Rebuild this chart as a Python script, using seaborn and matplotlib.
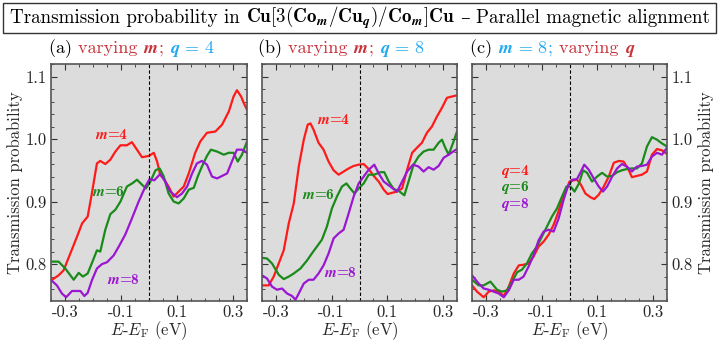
import numpy as np
import pandas as pd
import matplotlib
matplotlib.use("Agg")
import matplotlib.pyplot as plt
import matplotlib.ticker as mticker
from matplotlib.patches import Rectangle
import seaborn as sns

# ---------------- data ----------------
# Panel (a): varying m, q = 4
a_m4_E = [-0.346,-0.323,-0.305,-0.281,-0.257,-0.239,-0.219,-0.204,-0.186,-0.174,-0.156,-0.138,-0.12,-0.102,-0.079,-0.061,-0.043,-0.025,0.0,0.017,0.029,0.04,0.052,0.07,0.088,0.106,0.124,0.142,0.165,0.183,0.207,0.237,0.261,0.285,0.302,0.314,0.329,0.338,0.35]
a_m4_T = [0.775,0.782,0.79,0.817,0.844,0.865,0.876,0.913,0.961,0.965,0.96,0.967,0.98,0.99,0.99,0.995,0.983,0.971,0.973,0.978,0.964,0.943,0.937,0.924,0.908,0.916,0.924,0.945,0.978,0.996,1.01,1.012,1.023,1.044,1.068,1.078,1.068,1.058,1.047]
a_m6_E = [-0.346,-0.323,-0.299,-0.269,-0.251,-0.236,-0.219,-0.2,-0.186,-0.174,-0.156,-0.138,-0.12,-0.102,-0.079,-0.057,-0.043,-0.025,-0.011,0.005,0.023,0.038,0.052,0.07,0.088,0.106,0.124,0.142,0.16,0.174,0.189,0.207,0.221,0.243,0.267,0.285,0.302,0.317,0.332,0.35]
a_m6_T = [0.804,0.804,0.793,0.775,0.786,0.78,0.785,0.806,0.822,0.82,0.855,0.88,0.887,0.9,0.924,0.93,0.935,0.927,0.921,0.932,0.95,0.953,0.941,0.913,0.9,0.897,0.905,0.919,0.922,0.94,0.956,0.973,0.983,0.98,0.975,0.978,0.978,0.964,0.975,0.996]
a_m8_E = [-0.346,-0.329,-0.311,-0.296,-0.275,-0.245,-0.231,-0.219,-0.204,-0.186,-0.168,-0.15,-0.126,-0.108,-0.085,-0.061,-0.037,-0.013,0.002,0.019,0.04,0.058,0.076,0.1,0.118,0.136,0.154,0.171,0.189,0.207,0.225,0.243,0.261,0.279,0.296,0.314,0.332,0.35]
a_m8_T = [0.773,0.766,0.753,0.747,0.757,0.757,0.749,0.754,0.774,0.793,0.8,0.803,0.814,0.828,0.847,0.873,0.9,0.924,0.936,0.934,0.944,0.932,0.916,0.907,0.913,0.924,0.945,0.961,0.965,0.959,0.94,0.937,0.941,0.945,0.964,0.983,0.983,0.978]

# Panel (b): varying m, q = 8
b_m4_E = [-0.35,-0.326,-0.308,-0.29,-0.272,-0.254,-0.236,-0.218,-0.2,-0.186,-0.176,-0.165,-0.147,-0.129,-0.111,-0.093,-0.075,-0.057,-0.039,-0.021,-0.003,0.015,0.033,0.051,0.069,0.087,0.101,0.117,0.135,0.153,0.171,0.189,0.206,0.224,0.242,0.26,0.278,0.296,0.314,0.332,0.35]
b_m4_T = [0.766,0.766,0.78,0.801,0.822,0.865,0.897,0.956,0.999,1.023,1.025,1.015,0.994,0.983,0.964,0.95,0.943,0.948,0.953,0.957,0.959,0.96,0.952,0.941,0.932,0.919,0.912,0.914,0.916,0.921,0.951,0.978,0.986,0.994,1.01,1.02,1.036,1.05,1.066,1.068,1.07]
b_m6_E = [-0.35,-0.332,-0.314,-0.29,-0.272,-0.254,-0.236,-0.212,-0.188,-0.171,-0.153,-0.135,-0.117,-0.099,-0.081,-0.063,-0.047,-0.033,-0.018,-0.003,0.015,0.033,0.053,0.075,0.089,0.105,0.123,0.141,0.161,0.176,0.194,0.212,0.23,0.248,0.266,0.284,0.296,0.308,0.32,0.336,0.35]
b_m6_T = [0.81,0.809,0.801,0.783,0.776,0.78,0.785,0.793,0.806,0.817,0.828,0.839,0.86,0.889,0.908,0.924,0.929,0.921,0.913,0.921,0.929,0.943,0.943,0.947,0.947,0.932,0.92,0.917,0.91,0.932,0.959,0.972,0.98,0.983,0.983,0.994,0.999,0.986,0.975,0.994,1.012]
b_m8_E = [-0.35,-0.332,-0.314,-0.296,-0.278,-0.26,-0.242,-0.23,-0.218,-0.2,-0.182,-0.165,-0.147,-0.129,-0.111,-0.093,-0.075,-0.057,-0.039,-0.021,-0.003,0.015,0.033,0.053,0.069,0.087,0.111,0.135,0.153,0.171,0.192,0.212,0.23,0.248,0.266,0.284,0.302,0.32,0.336,0.35]
b_m8_T = [0.782,0.777,0.764,0.759,0.761,0.753,0.749,0.743,0.753,0.769,0.775,0.775,0.785,0.798,0.817,0.841,0.849,0.855,0.881,0.908,0.929,0.94,0.951,0.959,0.945,0.932,0.924,0.916,0.932,0.948,0.959,0.956,0.948,0.955,0.951,0.957,0.97,0.975,0.98,0.984]

# Panel (c): m = 8, varying q
c_q4_E = [-0.35,-0.332,-0.308,-0.29,-0.272,-0.254,-0.236,-0.218,-0.2,-0.182,-0.165,-0.147,-0.129,-0.111,-0.093,-0.075,-0.057,-0.042,-0.027,-0.011,0.0,0.015,0.027,0.041,0.057,0.075,0.089,0.105,0.123,0.141,0.159,0.177,0.194,0.212,0.224,0.242,0.26,0.278,0.296,0.314,0.332,0.35]
c_q4_T = [0.766,0.756,0.747,0.756,0.758,0.756,0.749,0.764,0.785,0.798,0.799,0.801,0.812,0.828,0.836,0.847,0.863,0.881,0.903,0.919,0.932,0.934,0.935,0.927,0.913,0.907,0.904,0.911,0.924,0.94,0.962,0.965,0.964,0.951,0.939,0.941,0.943,0.948,0.975,0.984,0.982,0.976]
c_q6_E = [-0.35,-0.326,-0.308,-0.284,-0.26,-0.242,-0.224,-0.206,-0.188,-0.171,-0.153,-0.135,-0.117,-0.099,-0.081,-0.063,-0.045,-0.027,-0.011,0.004,0.018,0.034,0.049,0.063,0.081,0.099,0.117,0.135,0.153,0.171,0.188,0.206,0.224,0.242,0.26,0.278,0.296,0.314,0.332,0.35]
c_q6_T = [0.775,0.766,0.766,0.772,0.759,0.756,0.758,0.772,0.787,0.791,0.801,0.817,0.828,0.844,0.86,0.876,0.889,0.908,0.924,0.924,0.916,0.929,0.95,0.946,0.932,0.94,0.946,0.94,0.941,0.947,0.95,0.952,0.953,0.953,0.961,0.988,1.003,0.999,0.993,0.988]
c_q8_E = [-0.35,-0.326,-0.308,-0.29,-0.272,-0.254,-0.236,-0.218,-0.2,-0.182,-0.165,-0.147,-0.129,-0.111,-0.093,-0.075,-0.057,-0.039,-0.021,-0.006,0.01,0.027,0.041,0.053,0.069,0.087,0.105,0.12,0.135,0.153,0.171,0.188,0.206,0.224,0.242,0.26,0.278,0.296,0.314,0.332,0.35]
c_q8_T = [0.782,0.769,0.761,0.759,0.756,0.753,0.747,0.758,0.775,0.775,0.78,0.796,0.814,0.838,0.852,0.855,0.852,0.873,0.903,0.924,0.935,0.936,0.948,0.959,0.951,0.937,0.924,0.916,0.924,0.94,0.953,0.96,0.956,0.948,0.956,0.957,0.959,0.972,0.978,0.975,0.986]

x_ticks = [-0.3, -0.1, 0.1, 0.3]
y_ticks = [0.8, 0.9, 1.0, 1.1]

# ---------------- style ----------------
sns.set_theme(style="ticks")
plt.rcParams.update({
    "font.family": ["cmr10", "DejaVu Serif"],
    "mathtext.fontset": "cm",
    "axes.unicode_minus": False,
    "axes.formatter.use_mathtext": True,
    "xtick.direction": "in", "ytick.direction": "in",
    "xtick.top": True, "ytick.right": True,
})

RED, GREEN, PURPLE = "#ff1a1a", "#1a8a1a", "#9a16d2"
TRED, TCYAN = "#c8323a", "#1eaaf0"
colors = [RED, GREEN, PURPLE]

fig = plt.figure(figsize=(7.2, 3.41), dpi=100)
W, H = 720, 341
def ax_rect(l, r, t, b):
    return [l / W, (H - b) / H, (r - l) / W, (b - t) / H]

axes = [fig.add_axes(ax_rect(51, 247, 64, 301)),
        fig.add_axes(ax_rect(262, 457, 64, 301)),
        fig.add_axes(ax_rect(472, 667, 64, 301))]

panels = [
    [(a_m4_E, a_m4_T), (a_m6_E, a_m6_T), (a_m8_E, a_m8_T)],
    [(b_m4_E, b_m4_T), (b_m6_E, b_m6_T), (b_m8_E, b_m8_T)],
    [(c_q4_E, c_q4_T), (c_q6_E, c_q6_T), (c_q8_E, c_q8_T)],
]

for ax, series in zip(axes, panels):
    ax.set_facecolor("#dcdcdc")
    for (E, T), col in zip(series, colors):
        df = pd.DataFrame({"E": E, "T": T})
        sns.lineplot(data=df, x="E", y="T", ax=ax, color=col, lw=1.6,
                     sort=False, estimator=None)
    ax.axvline(0, color="black", lw=0.8, ls=(0, (3, 2)))
    ax.set_xlim(-0.35, 0.35)
    ax.set_ylim(0.741, 1.12)
    ax.set_xticks(x_ticks)
    ax.xaxis.set_minor_locator(mticker.MultipleLocator(0.05))
    ax.set_yticks(y_ticks)
    ax.yaxis.set_minor_locator(mticker.MultipleLocator(0.02))
    ax.xaxis.set_major_formatter(mticker.FormatStrFormatter("%.1f"))
    ax.yaxis.set_major_formatter(mticker.FormatStrFormatter("%.1f"))
    ax.tick_params(which="both", direction="in", top=True, right=True,
                   color="#333333", labelsize=12, pad=3)
    ax.tick_params(which="major", length=4, width=0.8)
    ax.tick_params(which="minor", length=2.5, width=0.6)
    for sp in ax.spines.values():
        sp.set_color("#555555")
        sp.set_linewidth(1.2)
    ax.set_xlabel(r"$E$-$E_{\mathrm{F}}$ (eV)", fontsize=12, labelpad=-1)
    ax.set_ylabel("")

axes[0].set_ylabel("Transmission probability", fontsize=12, labelpad=2)
axes[1].tick_params(labelleft=False)
axes[2].tick_params(labelleft=False, labelright=True)
axes[2].yaxis.set_label_position("right")
axes[2].set_ylabel("Transmission probability", fontsize=12, labelpad=4)

# curve labels
lab_kw = dict(fontsize=11, ha="center", va="center", family="cmb10")
def lab(sym, n):
    return r"$\boldsymbol{%s}$=%s" % (sym, n)
axes[0].text(-0.132, 1.007, lab("m", 4), color=RED, **lab_kw)
axes[0].text(-0.144, 0.916, lab("m", 6), color=GREEN, **lab_kw)
axes[0].text(-0.090, 0.774, lab("m", 8), color=PURPLE, **lab_kw)
axes[1].text(-0.093, 1.031, lab("m", 4), color=RED, **lab_kw)
axes[1].text(-0.147, 0.911, lab("m", 6), color=GREEN, **lab_kw)
axes[1].text(-0.069, 0.786, lab("m", 8), color=PURPLE, **lab_kw)
axes[2].text(-0.194, 0.948, lab("q", 4), color=RED, **lab_kw)
axes[2].text(-0.194, 0.922, lab("q", 6), color=GREEN, **lab_kw)
axes[2].text(-0.194, 0.896, lab("q", 8), color=PURPLE, **lab_kw)

# multi-coloured text helper
fig.canvas.draw()
renderer = fig.canvas.get_renderer()
def color_text(x_px, y_px, parts, fontsize, center=False):
    texts, x = [], x_px
    for part in parts:
        s, c = part[0], part[1]
        fam = part[2] if len(part) > 2 else None
        kw = dict(color=c, fontsize=fontsize, ha="left", va="baseline")
        if fam:
            kw["family"] = fam
        t = fig.text(x / W, 1 - y_px / H, s, **kw)
        bb = t.get_window_extent(renderer)
        texts.append((t, x))
        x += bb.width
    if center:
        shift = (x - x_px) / 2
        for t, x0 in texts:
            t.set_x((x0 - shift) / W)

sub_fs = 13
color_text(49, 53, [("(a) ", "black"), ("varying ", TRED),
                    (r"$\boldsymbol{m}$", TRED), ("; ", TRED),
                    (r"$\boldsymbol{q}\mathbf{\,=\,4}$", TCYAN)], sub_fs)
color_text(258, 53, [("(b) ", "black"), ("varying ", TRED),
                     (r"$\boldsymbol{m}$", TRED), ("; ", TRED),
                     (r"$\boldsymbol{q}\mathbf{\,=\,8}$", TCYAN)], sub_fs)
color_text(470, 53, [("(c) ", "black"), (r"$\boldsymbol{m}\mathbf{\,=\,8}$", TCYAN),
                     ("; ", TCYAN), ("varying ", TRED), (r"$\boldsymbol{q}$", TRED)], sub_fs)

# title box
fig.patches.append(Rectangle((3 / W, 1 - 33 / H), 713 / W, 30 / H, transform=fig.transFigure,
                             fill=False, edgecolor="#333333", lw=1.0))
color_text(360, 23,
           [("Transmission probability in ", "black"),
            (r"$\mathbf{Cu[3(Co}_{\boldsymbol{m}}\mathbf{/Cu}_{\boldsymbol{q}}\mathbf{)/Co}_{\boldsymbol{m}}\mathbf{]Cu}$", "black"),
            (" \u2013 ", "black", "DejaVu Serif"),
            ("Parallel magnetic alignment", "black")], 13.7, center=True)

fig.savefig("out.png", dpi=100)
